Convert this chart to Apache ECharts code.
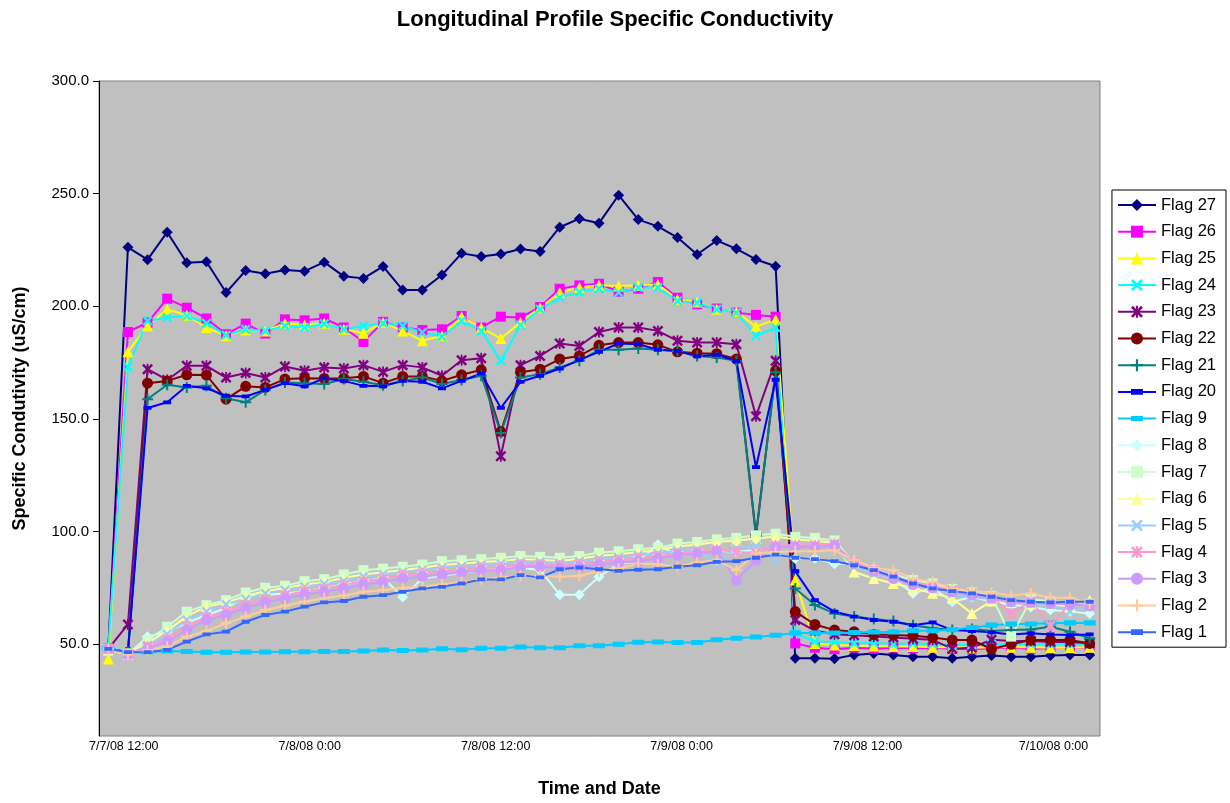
<!DOCTYPE html>
<html>
<head>
<meta charset="utf-8">
<script src="https://cdn.jsdelivr.net/npm/echarts@6/dist/echarts.min.js"></script>
<style>
  html, body { margin: 0; padding: 0; background: #ffffff; }
  #chart { width: 1230px; height: 803px; }
</style>
</head>
<body>
<div id="chart"></div>
<script>
// Sampling times of the longitudinal profile runs
const times = [
  '7/7/08 11:00', '7/7/08 12:16', '7/7/08 13:32', '7/7/08 14:48', '7/7/08 16:04',
  '7/7/08 17:20', '7/7/08 18:36', '7/7/08 19:52', '7/7/08 21:08', '7/7/08 22:24',
  '7/7/08 23:40', '7/8/08 0:56', '7/8/08 2:12', '7/8/08 3:28', '7/8/08 4:44',
  '7/8/08 6:00', '7/8/08 7:16', '7/8/08 8:32', '7/8/08 9:48', '7/8/08 11:04',
  '7/8/08 12:20', '7/8/08 13:36', '7/8/08 14:52', '7/8/08 16:08', '7/8/08 17:24',
  '7/8/08 18:40', '7/8/08 19:56', '7/8/08 21:12', '7/8/08 22:28', '7/8/08 23:44',
  '7/9/08 1:00', '7/9/08 2:16', '7/9/08 3:32', '7/9/08 4:48', '7/9/08 6:04',
  '7/9/08 7:20', '7/9/08 8:36', '7/9/08 9:52', '7/9/08 11:08', '7/9/08 12:24',
  '7/9/08 13:40', '7/9/08 14:56', '7/9/08 16:12', '7/9/08 17:28', '7/9/08 18:44',
  '7/9/08 20:00', '7/9/08 21:16', '7/9/08 22:32', '7/9/08 23:48', '7/10/08 1:04',
  '7/10/08 2:20'
];

// Date/time tick labels on the horizontal axis
const xTickLabels = ['7/7/08 12:00', '7/8/08 0:00', '7/8/08 12:00', '7/9/08 0:00', '7/9/08 12:00', '7/10/08 0:00'];
// Conductivity tick values on the vertical axis
const yTickValues = [50, 100, 150, 200, 250, 300];

// Specific conductivity (uS/cm) per flag
const flag27 = [48.0, 226.2, 220.7, 232.9, 219.3, 219.8, 206.1, 215.9, 214.5, 216.1, 215.6, 219.6, 213.3, 212.4, 217.7, 207.2, 207.2, 213.9, 223.5, 222.1, 223.2, 225.4, 224.3, 235.1, 238.9, 236.9, 249.3, 238.5, 235.5, 230.5, 223.0, 229.2, 225.5, 220.8, 217.8, 43.8, 43.8, 43.6, 45.3, 45.9, 45.3, 44.5, 44.5, 43.8, 44.5, 45.0, 44.5, 44.5, 45.0, 45.3, 45.3];
const flag26 = [48.0, 188.6, 192.8, 203.4, 199.4, 194.6, 187.6, 192.3, 187.9, 194.2, 193.8, 194.6, 190.6, 184.2, 193.1, 190.6, 189.5, 189.8, 195.7, 190.6, 195.4, 195.0, 199.7, 207.8, 209.3, 210.0, 206.5, 207.8, 210.8, 203.8, 200.9, 199.0, 197.2, 196.2, 195.4, 50.4, 48.5, 47.8, 48.5, 48.0, 48.5, 48.2, 48.5, 48.0, 47.8, 48.2, 48.5, 48.0, 48.2, 48.5, 48.5];
const flag25 = [43.5, 179.8, 191.3, 198.7, 196.0, 190.6, 186.9, 189.5, 189.1, 192.5, 191.7, 192.5, 189.8, 188.1, 192.8, 189.1, 184.7, 186.9, 195.4, 190.6, 185.7, 192.8, 199.4, 206.1, 208.3, 209.3, 209.0, 209.3, 209.7, 203.1, 201.9, 198.7, 197.5, 191.0, 194.2, 78.5, 50.4, 49.7, 49.5, 49.2, 49.0, 49.0, 48.7, 48.7, 48.5, 48.7, 48.7, 48.7, 48.5, 48.5, 48.7];
const flag24 = [48.0, 173.2, 193.5, 195.0, 195.7, 192.5, 187.2, 189.8, 189.1, 191.3, 190.6, 192.3, 189.8, 191.3, 192.5, 191.3, 188.4, 186.6, 193.5, 189.1, 175.8, 191.7, 198.7, 203.8, 206.3, 207.8, 206.1, 208.3, 208.3, 202.4, 201.6, 198.7, 197.2, 186.9, 190.6, 54.9, 51.2, 51.0, 50.4, 50.6, 50.1, 50.4, 50.1, 49.7, 49.7, 50.1, 50.1, 50.1, 50.1, 50.1, 50.1];
const flag23 = [48.0, 58.8, 172.1, 167.3, 173.6, 173.6, 168.4, 170.4, 168.4, 173.3, 171.4, 172.9, 172.4, 173.9, 170.9, 173.9, 172.9, 169.2, 176.1, 177.0, 133.5, 173.9, 178.0, 183.5, 182.4, 188.6, 190.6, 190.6, 189.1, 184.7, 183.9, 183.9, 183.2, 151.2, 175.8, 60.8, 56.0, 54.5, 54.0, 53.5, 53.0, 52.5, 52.0, 48.0, 48.5, 52.0, 51.5, 51.5, 51.0, 51.0, 50.5];
const flag22 = [48.0, 46.5, 165.9, 166.9, 169.6, 169.5, 158.8, 164.5, 164.0, 167.7, 168.1, 168.0, 168.1, 168.9, 165.9, 168.9, 168.9, 166.9, 169.6, 171.8, 144.4, 170.7, 172.1, 176.6, 178.0, 182.7, 183.9, 183.9, 182.9, 179.8, 179.2, 179.0, 176.6, 98.5, 171.4, 64.5, 58.8, 56.3, 55.6, 54.4, 54.1, 53.8, 53.0, 51.9, 51.9, 47.9, 50.0, 51.9, 51.9, 51.9, 50.4];
const flag21 = [48.0, 46.5, 158.8, 165.2, 164.0, 164.7, 159.2, 157.4, 162.9, 166.2, 165.9, 165.5, 167.7, 166.5, 165.0, 166.9, 168.4, 165.5, 167.3, 169.2, 143.8, 168.4, 169.9, 172.9, 175.8, 180.7, 180.7, 181.3, 180.7, 180.2, 178.0, 177.3, 175.8, 98.0, 170.7, 74.8, 67.4, 63.7, 62.3, 61.2, 60.3, 58.5, 57.1, 56.3, 56.8, 55.9, 56.3, 56.6, 57.8, 55.6, 52.7];
const flag20 = [48.0, 46.5, 154.9, 157.4, 164.7, 163.6, 160.3, 160.0, 162.9, 165.9, 164.5, 168.0, 166.9, 164.7, 164.5, 166.9, 166.5, 163.6, 166.9, 170.2, 154.9, 166.5, 169.2, 172.4, 176.2, 179.8, 183.5, 183.2, 180.7, 180.2, 177.8, 178.5, 175.8, 128.6, 167.4, 82.4, 69.6, 64.5, 62.3, 60.8, 60.0, 58.5, 59.7, 56.3, 55.9, 55.3, 54.4, 54.9, 54.4, 54.1, 54.4];
const flag9 = [48.2, 46.5, 46.7, 47.0, 46.8, 46.5, 46.5, 46.6, 46.6, 46.7, 46.7, 46.8, 46.8, 47.0, 47.5, 47.2, 47.5, 48.0, 47.6, 48.2, 48.2, 48.8, 48.5, 48.5, 49.4, 49.4, 50.0, 50.9, 51.0, 50.8, 50.8, 52.0, 52.7, 53.2, 54.0, 55.0, 55.0, 55.0, 55.2, 55.5, 55.5, 56.0, 56.0, 56.5, 57.5, 58.5, 59.0, 59.0, 59.5, 59.5, 59.5];
const flag8 = [48.0, 45.5, 53.4, 55.5, 59.5, 63.0, 66.0, 71.1, 72.0, 72.5, 73.5, 75.0, 76.5, 78.0, 79.5, 71.0, 79.2, 80.5, 81.5, 83.0, 83.5, 84.0, 83.0, 72.0, 72.0, 80.0, 85.5, 87.0, 94.2, 89.5, 90.5, 91.5, 91.0, 92.0, 90.0, 88.1, 88.1, 85.8, 85.8, 82.0, 79.0, 72.6, 75.0, 68.9, 71.0, 69.0, 67.5, 66.5, 65.2, 64.5, 63.7];
const flag7 = [48.0, 46.0, 51.9, 57.8, 64.5, 67.4, 69.6, 73.0, 75.1, 76.0, 78.0, 78.9, 81.0, 82.9, 83.6, 84.4, 85.4, 86.9, 87.3, 87.8, 88.4, 89.2, 88.8, 88.4, 89.2, 90.7, 91.3, 92.2, 92.8, 94.7, 95.4, 96.6, 97.2, 98.4, 99.1, 97.7, 97.2, 96.1, 86.0, 83.0, 81.0, 78.5, 77.0, 74.5, 73.0, 71.5, 53.4, 70.0, 69.0, 68.5, 68.0];
const flag6 = [47.5, 45.5, 50.5, 56.0, 62.5, 66.7, 68.5, 71.5, 73.5, 75.0, 76.5, 77.5, 79.5, 81.0, 82.0, 83.0, 84.0, 85.3, 85.8, 86.5, 87.0, 87.8, 87.5, 87.0, 88.0, 89.3, 90.0, 91.0, 91.8, 93.5, 94.2, 95.5, 96.0, 97.0, 97.8, 96.5, 96.0, 95.0, 82.1, 79.2, 77.0, 75.0, 72.6, 70.5, 63.7, 69.2, 68.5, 68.0, 67.5, 67.0, 69.6];
const flag5 = [48.0, 45.5, 49.5, 54.5, 60.8, 64.5, 67.7, 70.0, 72.6, 74.0, 75.5, 76.8, 78.0, 80.0, 81.0, 82.0, 83.0, 84.0, 84.5, 85.2, 85.8, 86.5, 86.5, 86.0, 86.8, 88.0, 88.5, 89.5, 90.3, 91.5, 92.0, 85.8, 92.5, 93.5, 88.1, 94.0, 93.5, 93.0, 84.5, 81.5, 79.5, 77.0, 75.0, 72.5, 71.0, 70.0, 68.5, 68.0, 67.5, 64.5, 67.0];
const flag4 = [48.0, 45.5, 49.0, 52.5, 58.0, 62.0, 64.5, 67.5, 70.0, 71.8, 73.5, 74.8, 76.3, 78.0, 79.2, 80.5, 81.3, 82.3, 83.0, 84.0, 84.0, 85.3, 85.3, 85.0, 85.5, 86.5, 87.3, 88.2, 89.0, 90.3, 91.0, 92.0, 91.0, 90.5, 94.0, 94.0, 94.0, 94.5, 86.5, 83.0, 80.5, 77.5, 76.0, 74.0, 72.5, 71.0, 63.7, 69.0, 58.3, 68.0, 67.5];
const flag3 = [48.0, 45.5, 48.2, 51.2, 56.3, 60.8, 63.0, 66.2, 68.6, 70.4, 72.1, 73.3, 74.8, 76.5, 77.7, 79.2, 80.0, 81.0, 81.9, 82.9, 82.9, 84.4, 84.4, 84.0, 84.4, 85.4, 86.2, 86.9, 88.1, 89.5, 90.3, 91.3, 78.5, 87.3, 93.2, 93.2, 93.2, 93.9, 85.8, 82.4, 79.2, 76.5, 75.1, 73.3, 71.8, 70.4, 68.9, 68.6, 68.1, 67.7, 67.1];
const flag2 = [48.0, 45.5, 47.5, 49.0, 53.4, 55.9, 59.3, 62.3, 65.2, 67.1, 68.9, 70.4, 71.6, 73.3, 74.0, 75.1, 75.5, 76.5, 77.7, 78.9, 79.5, 80.4, 80.4, 80.0, 80.4, 82.4, 83.6, 85.8, 85.5, 84.4, 86.3, 87.3, 82.9, 90.3, 91.0, 91.3, 91.3, 91.7, 87.3, 84.0, 82.9, 79.2, 77.7, 74.8, 73.6, 73.0, 71.6, 72.6, 70.7, 70.7, 68.1];
const flag1 = [48.0, 46.5, 46.5, 47.5, 51.2, 54.4, 55.6, 60.0, 63.0, 64.5, 66.7, 68.6, 69.2, 71.1, 71.8, 73.3, 74.8, 75.5, 77.0, 78.8, 78.8, 80.7, 79.7, 83.3, 84.1, 83.3, 82.6, 83.1, 83.3, 84.4, 85.1, 86.6, 86.9, 88.4, 89.8, 88.4, 87.8, 86.9, 85.1, 82.9, 80.0, 77.0, 74.8, 73.6, 72.6, 71.1, 69.6, 68.9, 68.6, 68.9, 68.9];

// Marker shapes drawn as filled outlines (10x10 boxes)
const SYM_X = 'path://M0,1.6 L1.6,0 L5,3.4 L8.4,0 L10,1.6 L6.6,5 L10,8.4 L8.4,10 L5,6.6 L1.6,10 L0,8.4 L3.4,5 Z';
const SYM_STAR = 'path://M0,1.6 L1.6,0 L5,3.4 L8.4,0 L10,1.6 L6.6,5 L10,8.4 L8.4,10 L5,6.6 L1.6,10 L0,8.4 L3.4,5 Z M4.2,0 L5.8,0 L5.8,10 L4.2,10 Z';
const SYM_PLUS = 'path://M4.1,0 L5.9,0 L5.9,4.1 L10,4.1 L10,5.9 L5.9,5.9 L5.9,10 L4.1,10 L4.1,5.9 L0,5.9 L0,4.1 L4.1,4.1 Z';
// Dash markers: a bar inside a square box (the box corners are pinned by
// sub-pixel slivers so the bar keeps its proportions at any square size)
const SYM_DASH = 'path://M0,0 L0.02,0 L0,0.02 Z M0,2.9 L10,2.9 L10,7.1 L0,7.1 Z M10,10 L9.98,10 L10,9.98 Z';
const SYM_SHORT_DASH = 'path://M0,0 L0.02,0 L0,0.02 Z M0,2.6 L10,2.6 L10,7.4 L0,7.4 Z M10,10 L9.98,10 L10,9.98 Z';

// Parse "m/d/yy h:mm" into hours counted from 7/7/08 0:00
function toHours(s) {
  const [date, time] = s.split(' ');
  const [m, d] = date.split('/').map(Number);
  const [h, mm] = time.split(':').map(Number);
  return (d - 7) * 24 + h + mm / 60;
}
function fromHours(v) {
  const day = 7 + Math.floor(v / 24);
  const h = Math.round(v - (day - 7) * 24);
  return '7/' + day + '/08 ' + h + ':00';
}

const flags = [
  { name: 'Flag 27', data: flag27, color: '#000080', symbol: 'diamond', size: 11 },
  { name: 'Flag 26', data: flag26, color: '#FF00FF', symbol: 'rect', size: 10 },
  { name: 'Flag 25', data: flag25, color: '#FFFF00', symbol: 'triangle', size: 11 },
  { name: 'Flag 24', data: flag24, color: '#00FFFF', symbol: SYM_X, size: 10 },
  { name: 'Flag 23', data: flag23, color: '#800080', symbol: SYM_STAR, size: 11 },
  { name: 'Flag 22', data: flag22, color: '#800000', symbol: 'circle', size: 11 },
  { name: 'Flag 21', data: flag21, color: '#008080', symbol: SYM_PLUS, size: 11 },
  { name: 'Flag 20', data: flag20, color: '#0000FF', symbol: SYM_SHORT_DASH, size: 8 },
  { name: 'Flag 9', data: flag9, color: '#00CCFF', symbol: SYM_DASH, size: 12 },
  { name: 'Flag 8', data: flag8, color: '#CCFFFF', symbol: 'diamond', size: 11 },
  { name: 'Flag 7', data: flag7, color: '#CCFFCC', symbol: 'rect', size: 10 },
  { name: 'Flag 6', data: flag6, color: '#FFFF99', symbol: 'triangle', size: 11 },
  { name: 'Flag 5', data: flag5, color: '#99CCFF', symbol: SYM_X, size: 10 },
  { name: 'Flag 4', data: flag4, color: '#FF99CC', symbol: SYM_STAR, size: 11 },
  { name: 'Flag 3', data: flag3, color: '#CC99FF', symbol: 'circle', size: 11 },
  { name: 'Flag 2', data: flag2, color: '#FFCC99', symbol: SYM_PLUS, size: 11 },
  { name: 'Flag 1', data: flag1, color: '#3366FF', symbol: SYM_SHORT_DASH, size: 8 }
];

const FONT = "'Liberation Sans', Arial, sans-serif";

const chart = echarts.init(document.getElementById('chart'), null, { renderer: 'canvas' });

chart.setOption({
  animation: false,
  backgroundColor: '#ffffff',
  title: {
    text: 'Longitudinal Profile Specific Conductivity',
    left: 'center',
    top: 4,
    textStyle: { fontFamily: FONT, fontSize: 22, fontWeight: 'bold', color: '#000' }
  },
  grid: {
    left: 99, right: 130, top: 81, bottom: 65,
    show: true, backgroundColor: '#C0C0C0', borderColor: '#808080', borderWidth: 1
  },
  legend: {
    orient: 'vertical',
    right: 4,
    top: 190,
    itemWidth: 38,
    itemHeight: 15,
    itemGap: 8.7,
    padding: [6, 10, 6, 5],
    backgroundColor: '#ffffff',
    borderColor: '#000000',
    borderWidth: 1,
    borderRadius: 0,
    textStyle: { fontFamily: FONT, fontSize: 16.5, color: '#000', lineHeight: 18 },
    data: flags.map(f => f.name)
  },
  xAxis: {
    type: 'value',
    min: 10.4,
    max: 75.0,
    name: 'Time and Date',
    nameLocation: 'middle',
    nameGap: 44,
    nameTextStyle: { fontFamily: FONT, fontSize: 18, fontWeight: 'bold', color: '#000' },
    axisLine: { show: false },
    axisTick: { show: false },
    splitLine: { show: false },
    axisLabel: {
      customValues: xTickLabels.map(toHours),
      formatter: v => fromHours(v),
      fontFamily: FONT,
      fontSize: 12.5,
      color: '#000',
      margin: 4
    }
  },
  yAxis: {
    type: 'value',
    min: 9.3,
    max: 300,
    name: 'Specific Condutivity (uS/cm)',
    nameLocation: 'middle',
    nameRotate: 90,
    nameGap: 70,
    nameTextStyle: { fontFamily: FONT, fontSize: 18, fontWeight: 'bold', color: '#000' },
    axisLine: { show: true, lineStyle: { color: '#000', width: 1 } },
    axisTick: { show: true, customValues: yTickValues, length: 6, lineStyle: { color: '#000' } },
    splitLine: { show: false },
    axisLabel: {
      customValues: yTickValues,
      formatter: v => v.toFixed(1),
      fontFamily: FONT,
      fontSize: 15,
      color: '#000',
      margin: 10
    }
  },
  series: flags.map(f => ({
    name: f.name,
    type: 'line',
    data: times.map((t, i) => [toHours(t), f.data[i]]),
    symbol: f.symbol,
    symbolSize: f.size,
    showAllSymbol: true,
    itemStyle: { color: f.color, borderWidth: 0 },
    lineStyle: { color: f.color, width: 2 },
    emphasis: { disabled: true }
  }))
});
</script>
</body>
</html>
